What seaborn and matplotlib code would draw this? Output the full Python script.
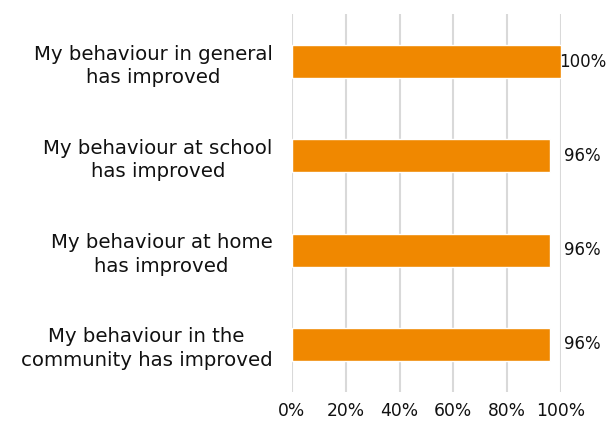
import matplotlib
matplotlib.use("Agg")
import matplotlib.pyplot as plt
import seaborn as sns
import pandas as pd

categories = [
    "My behaviour in general\nhas improved",
    "My behaviour at school\nhas improved",
    "My behaviour at home\nhas improved",
    "My behaviour in the\ncommunity has improved",
]
values = [100, 96, 96, 96]
x_ticks = [0, 20, 40, 60, 80, 100]
x_tick_labels = ["0%", "20%", "40%", "60%", "80%", "100%"]

sns.set_style("white")
plt.rcParams["font.family"] = ["DejaVu Sans"]

df = pd.DataFrame({"statement": categories, "pct": values})

fig = plt.figure(figsize=(6.08, 4.21), dpi=100)
ax = fig.add_axes([0.480, 0.070, 0.4427, 0.8956])

sns.barplot(data=df, x="pct", y="statement", orient="h", color="#F08800",
            saturation=1, width=0.35, ax=ax, zorder=3)

ax.set_xlim(0, 100)
ax.set_ylim(3.5, -0.5)
ax.set_xticks(x_ticks)
ax.set_xticklabels(x_tick_labels)
ax.set_xlabel("")
ax.set_ylabel("")

ax.grid(axis="x", color="#D9D9D9", linewidth=1.5, zorder=0)
ax.grid(axis="y", visible=False)
for side in ["top", "right", "bottom", "left"]:
    ax.spines[side].set_visible(False)

ax.tick_params(axis="both", length=0, labelcolor="#111111")
ax.tick_params(axis="x", labelsize=12.3, pad=7.5)
ax.tick_params(axis="y", labelsize=14.2, pad=14)
for lbl in ax.get_yticklabels():
    lbl.set_multialignment("center")
    lbl.set_linespacing(1.3)

# value labels, kept inside the figure on the right
for i, v in enumerate(values):
    ax.text(min(v + 13.5, 108), i, f"{v}%", ha="center", va="center",
            fontsize=12, color="#111111", clip_on=False)

fig.savefig("out.png", dpi=100, facecolor="white")
